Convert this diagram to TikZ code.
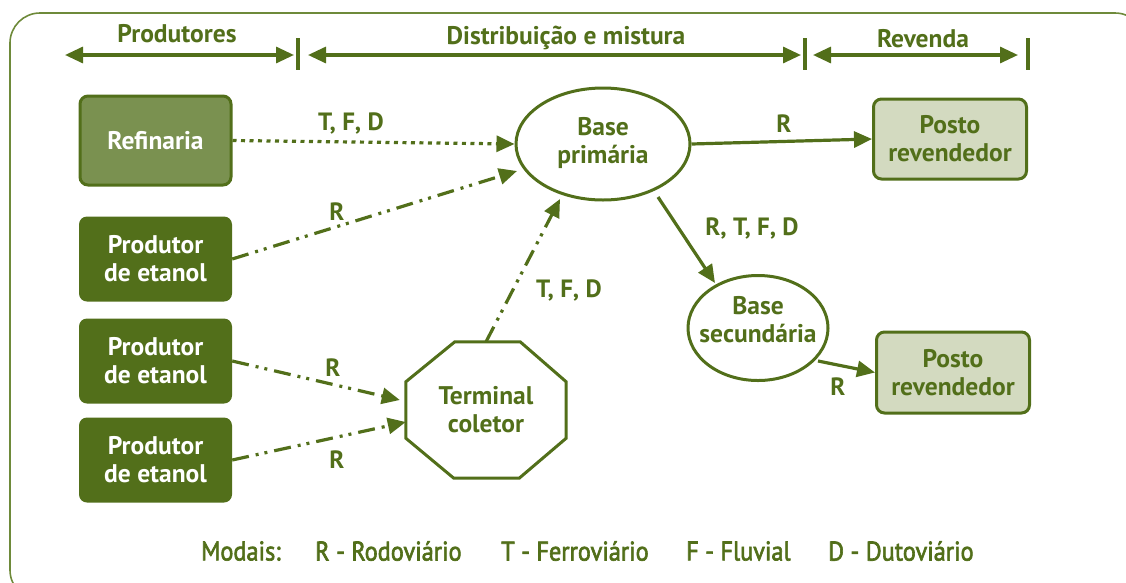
\documentclass[tikz,border=0pt]{standalone}
\usepackage{fontspec}
\setmainfont{PT Sans}
\usetikzlibrary{arrows.meta,calc,shapes.geometric}
\definecolor{dg}{RGB}{82,111,26}
\definecolor{fr}{RGB}{110,138,58}
\definecolor{rf}{RGB}{122,145,80}
\definecolor{pf}{RGB}{211,218,192}
\begin{document}
\begin{tikzpicture}[x=1pt,y=-1pt,
  tip/.style={-{Triangle[length=18pt,width=16pt]}},
  dtip/.style={{Triangle[length=18pt,width=16pt]}-{Triangle[length=18pt,width=16pt]}},
  conn/.style={draw=dg,line width=3.2pt,tip},
  ddot/.style={dash pattern=on 17pt off 7pt on 3pt off 6pt on 3pt off 7pt},
  dots/.style={dash pattern=on 4pt off 4.5pt},
  lbl/.style={text=dg,font=\bfseries\fontsize{25}{28}\selectfont},
  hdr/.style={text=dg,font=\bfseries\fontsize{25.5}{28}\selectfont},
  box/.style={rounded corners=8pt,minimum width=153pt,align=center,
     font=\bfseries\fontsize{25.5}{28}\selectfont,inner sep=0pt},
  prod/.style={box,fill=dg,text=white,minimum height=85pt},
  posto/.style={box,fill=pf,draw=dg,line width=3pt,text=dg,minimum height=80pt},
  ell/.style={ellipse,draw=dg,line width=3pt,inner sep=0pt},
  etxt/.style={text=dg,align=center,inner sep=0pt,font=\bfseries\fontsize{25.5}{28}\selectfont},
  bar/.style={draw=dg,line width=3.2pt},
  leg/.style={text=dg,anchor=west,inner sep=0pt,font=\fontsize{27}{28}\selectfont\addfontfeatures{FakeBold=2.5}}
]
\useasboundingbox (0,0) rectangle (1126,582);
\begin{scope}
\clip (0,0) rectangle (1126,582);
\draw[fr,line width=1.6pt,rounded corners=30pt] (10,13) rectangle (1145,600);
\end{scope}
% header
\draw[bar,dtip] (65,55) -- (294,55);
\draw[bar] (298,38) -- (298,70);
\draw[bar,dtip] (308,55) -- (801,55);
\draw[bar] (805,38) -- (805,70);
\draw[bar,dtip] (813,55) -- (1018,55);
\draw[bar] (1028,38) -- (1028,70);
\node[hdr] (hp) at (177,34) {Produtores};
\node[hdr] (hd) at (566,38) {Distribuição e mistura};
\node[hdr] (hr) at (923,39) {Revenda};
% nodes
\node[box,fill=rf,draw=dg,line width=3pt,text=white,minimum width=151pt,minimum height=89pt] (ref) at (155.5,140.5) {Refinaria};
\node[prod] (p1) at (155.5,259) {Produtor\\de etanol};
\node[prod] (p2) at (155.5,361) {Produtor\\de etanol};
\node[prod] (p3) at (155.5,460) {Produtor\\de etanol};
\node[ell,minimum width=174pt,minimum height=112pt] (bp) at (603,144) {};
\node[etxt] (bpt) at ($(bp.center)+(0,-1)$) {Base\\primária};
\node[ell,minimum width=140pt,minimum height=105pt] (bs) at (758,328) {};
\node[etxt] (bst) at ($(bs.center)+(0,-8)$) {Base\\secundária};
\node[posto] (q1) at (950,139) {Posto\\revendedor};
\node[posto,minimum height=81pt] (q2) at (953,372.5) {Posto\\revendedor};
\node[minimum width=160pt,minimum height=136pt,inner sep=0pt,text=dg,align=center,
  font=\bfseries\fontsize{25.5}{28}\selectfont] (tc) at (486,410) {Terminal\\coletor};
\draw[dg,line width=3pt,line join=miter]
  ($(tc.north west)+(49,0)$) -- ($(tc.north east)+(-46,0)$) -- ($(tc.north east)+(0,40)$)
  -- ($(tc.south east)+(0,-40)$) -- ($(tc.south east)+(-47,0)$) -- ($(tc.south west)+(48,0)$)
  -- ($(tc.south west)+(0,-40)$) -- ($(tc.north west)+(0,40)$) -- cycle;
% connectors
\draw[conn,dots] (ref.east) -- (bp.west);
\node[lbl] (l0) at (351,123) {T, F, D};
\draw[conn,ddot] (p1.east) -- ($(bp.center)+(-86,27)$) coordinate (e1);
\node[lbl] (l1) at (337,212) {R};
\draw[conn,ddot] (p2.east) -- ($(tc.west)+(-6,-10)$);
\node[lbl] (l2) at (333,368) {R};
\draw[conn,ddot] (p3.east) -- ($(tc.west)+(0,12)$);
\node[lbl] (l3) at (337,460) {R};
\draw[conn,ddot] (tc.north) -- ($(bp.center)+(-43,55)$);
\node[lbl] (l4) at (569,290) {T, F, D};
\draw[conn] (bp.east) -- (q1.west);
\node[lbl] (l5) at (784,124) {R};
\draw[conn] ($(bp.center)+(55,53)$) -- ($(bs.center)+(-43,-45)$);
\node[lbl] (l6) at (752,228) {R, T, F, D};
\draw[conn] ($(bs.center)+(60,33)$) -- (q2.west);
\node[lbl] (l7) at (838,387) {R};
% legend
\node[leg] (lg0) at (201,551) {\scalebox{0.9}[1]{Modais:}};
\node[leg] (lg1) at (315,551) {\scalebox{0.9}[1]{R - Rodoviário}};
\node[leg] (lg2) at (501,551) {\scalebox{0.9}[1]{T - Ferroviário}};
\node[leg] (lg3) at (686,551) {\scalebox{0.9}[1]{F - Fluvial}};
\node[leg] (lg4) at (828,551) {\scalebox{0.9}[1]{D - Dutoviário}};
\end{tikzpicture}
\end{document}
